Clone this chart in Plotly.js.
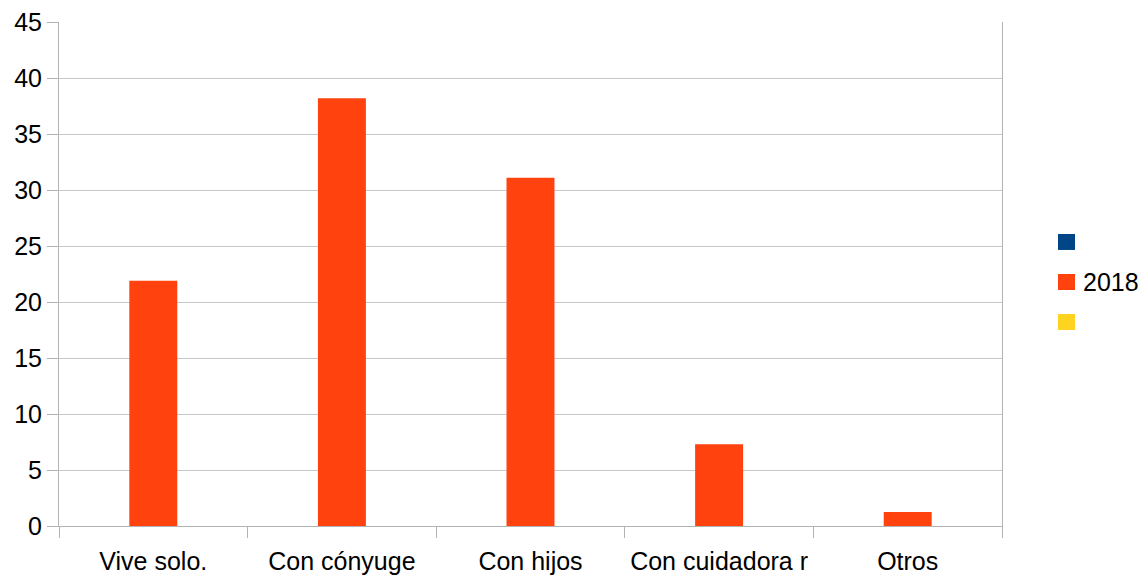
<!DOCTYPE html>
<html>
<head>
<meta charset="utf-8">
<script src="https://cdn.plot.ly/plotly-3.0.1.min.js"></script>
<style>
  html, body { margin: 0; padding: 0; background: #ffffff; }
  #chart { width: 1143px; height: 576px; }
</style>
</head>
<body>
<div id="chart"></div>
<script>
// Living arrangement categories (x axis)
const categories = ["Vive solo.", "Con cónyuge", "Con hijos", "Con cuidadora r", "Otros"];

// Series: two unnamed empty series flank the 2018 series
const seriesBlank1 = [null, null, null, null, null];
const series2018 = [21.9, 38.2, 31.1, 7.3, 1.25];
const seriesBlank2 = [null, null, null, null, null];

const seriesNames = ["", "2018", ""];
const seriesColors = ["#004586", "#ff420e", "#ffd320"];

const yTicks = [0, 5, 10, 15, 20, 25, 30, 35, 40, 45];

const allSeries = [seriesBlank1, series2018, seriesBlank2];
const traces = allSeries.map((vals, i) => ({
  type: "bar",
  x: categories,
  y: vals,
  name: seriesNames[i],
  marker: { color: seriesColors[i], line: { width: 0 } },
  hoverinfo: "skip",
  showlegend: false
}));

// Key drawn at the right of the plot: one square per series, name beside it
const keyX0 = 1.0594, keyX1 = 1.0774;   // paper units
const keyTop = 0.5794, keyStep = 0.0794, keySize = 0.0317;
const shapes = [];
const annotations = [];
seriesNames.forEach((name, i) => {
  const top = keyTop - i * keyStep;
  shapes.push({
    type: "rect", xref: "paper", yref: "paper",
    x0: keyX0, x1: keyX1, y0: top - keySize, y1: top,
    fillcolor: seriesColors[i], line: { width: 0 }
  });
  if (name) {
    annotations.push({
      xref: "paper", yref: "paper",
      x: keyX1 + 0.006, y: top - keySize / 2,
      xanchor: "left", yanchor: "middle",
      text: name, showarrow: false,
      font: { size: 25, color: "#000000" }
    });
  }
});

const layout = {
  width: 1143,
  height: 576,
  paper_bgcolor: "#ffffff",
  plot_bgcolor: "#ffffff",
  margin: { l: 59, r: 141, t: 22, b: 50, pad: 0 },
  barmode: "group",
  bargap: 0.237,
  bargroupgap: 0,
  font: { family: "Liberation Sans, Arial, sans-serif", size: 25, color: "#000000" },
  xaxis: {
    type: "category",
    tickson: "boundaries",
    ticks: "outside",
    ticklen: 11,
    tickcolor: "#b3b3b3",
    tickwidth: 1,
    tickangle: 0,
    ticklabelstandoff: 13,
    automargin: false,
    showgrid: false,
    showline: true,
    linecolor: "#b3b3b3",
    linewidth: 1,
    tickfont: { size: 25, color: "#000000" },
    fixedrange: true
  },
  yaxis: {
    range: [0, 45],
    tickvals: yTicks,
    ticktext: yTicks.map(String),
    ticks: "outside",
    ticklen: 11,
    tickcolor: "#b3b3b3",
    automargin: false,
    showgrid: true,
    gridcolor: "#c8c8c8",
    gridwidth: 1,
    zeroline: false,
    showline: true,
    mirror: true,
    linecolor: "#b3b3b3",
    linewidth: 1,
    tickfont: { size: 25, color: "#000000" },
    fixedrange: true
  },
  showlegend: false,
  shapes: shapes,
  annotations: annotations
};

Plotly.newPlot("chart", traces, layout, { staticPlot: true, displayModeBar: false });
</script>
</body>
</html>
